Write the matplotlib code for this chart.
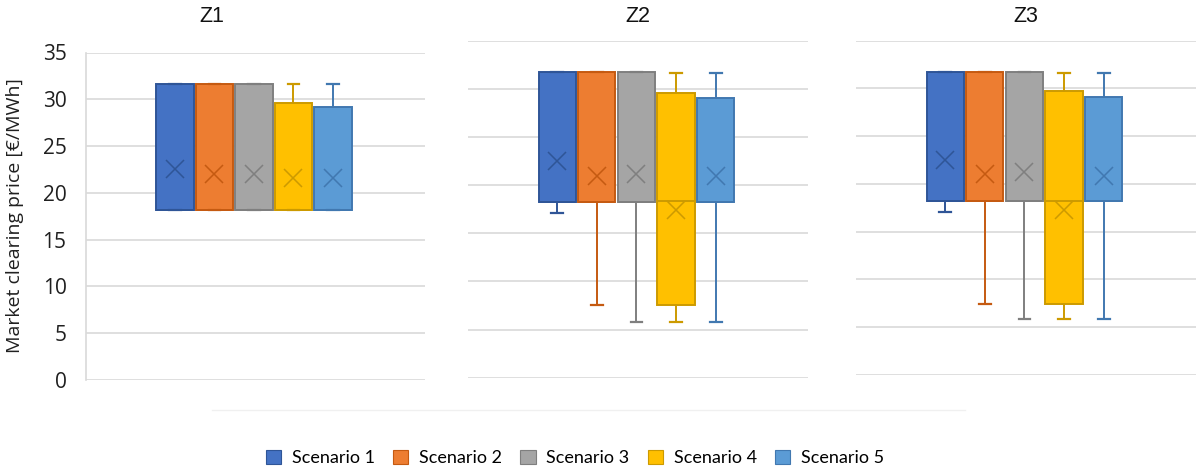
import matplotlib
matplotlib.use("Agg")
import matplotlib.pyplot as plt
from matplotlib.patches import Patch
from matplotlib.lines import Line2D

# ---------------- data ----------------
zones = ["Z1", "Z2", "Z3"]
scenarios = ["Scenario 1", "Scenario 2", "Scenario 3", "Scenario 4", "Scenario 5"]

# Z1
z1_whislo = [18.2, 18.2, 18.2, 18.2, 18.2]
z1_q1 = [18.2, 18.2, 18.2, 18.2, 18.2]
z1_med = [18.2, 18.2, 18.2, 18.2, 18.2]
z1_q3 = [31.6, 31.6, 31.6, 29.6, 29.2]
z1_whishi = [31.6, 31.6, 31.6, 31.6, 31.6]
z1_mean = [22.5, 22.0, 22.0, 21.6, 21.6]

# Z2
z2_whislo = [17.1, 7.5, 5.8, 5.8, 5.8]
z2_q1 = [18.2, 18.2, 18.2, 7.5, 18.2]
z2_med = [18.2, 18.2, 18.2, 18.3, 18.2]
z2_q3 = [31.7, 31.7, 31.7, 29.6, 29.1]
z2_whishi = [31.7, 31.7, 31.7, 31.6, 31.6]
z2_mean = [22.5, 21.0, 21.2, 17.4, 20.9]

# Z3
z3_whislo = [17.1, 7.4, 5.8, 5.8, 5.8]
z3_q1 = [18.2, 18.2, 18.2, 7.4, 18.2]
z3_med = [18.2, 18.2, 18.2, 18.25, 18.2]
z3_q3 = [31.7, 31.7, 31.7, 29.7, 29.1]
z3_whishi = [31.7, 31.7, 31.7, 31.6, 31.6]
z3_mean = [22.5, 21.0, 21.25, 17.3, 20.8]

yticks = [0, 5, 10, 15, 20, 25, 30, 35]

fill_colors = ["#4472C4", "#ED7D31", "#A5A5A5", "#FFC000", "#5B9BD5"]
edge_colors = ["#2F5597", "#C55A11", "#7F7F7F", "#CC9A00", "#4178B0"]
grid_color = "#D9D9D9"

zone_data = [
    (z1_whislo, z1_q1, z1_med, z1_q3, z1_whishi, z1_mean),
    (z2_whislo, z2_q1, z2_med, z2_q3, z2_whishi, z2_mean),
    (z3_whislo, z3_q1, z3_med, z3_q3, z3_whishi, z3_mean),
]

# axes rectangles (figure fractions) – panels are slightly offset as in the source
W, H = 1197, 468
rects = [
    (86 / W, 1 - 380 / H, 339 / W, (380 - 52.5) / H),
    (468 / W, 1 - 377.7 / H, 340 / W, (377.7 - 40.7) / H),
    (856 / W, 1 - 374.7 / H, 340 / W, (374.7 - 40.7) / H),
]
title_x = [212, 638, 1026]

fig = plt.figure(figsize=(W / 100, H / 100), dpi=100)

positions = [1, 2, 3, 4, 5]
for zi, (rect, data) in enumerate(zip(rects, zone_data)):
    ax = fig.add_axes(rect)
    wl, q1, md, q3, wh, mn = data
    for i in range(5):
        stats = [dict(whislo=wl[i], q1=q1[i], med=md[i], q3=q3[i],
                      whishi=wh[i], mean=mn[i], fliers=[])]
        ec = edge_colors[i]
        ax.bxp(stats, positions=[positions[i]], widths=0.94, patch_artist=True,
               showmeans=True, showfliers=False, capwidths=0.3,
               boxprops=dict(facecolor=fill_colors[i], edgecolor=ec, linewidth=1.4),
               medianprops=dict(color=ec, linewidth=1.4),
               whiskerprops=dict(color=ec, linewidth=1.4),
               capprops=dict(color=ec, linewidth=1.6),
               meanprops=dict(marker="x", markersize=13, markeredgecolor=ec,
                              markeredgewidth=1.1, markerfacecolor="none"),
               zorder=3)
    ax.set_xlim(-1.253, 7.33)
    ax.set_ylim(0, 35)
    ax.set_yticks(yticks)
    ax.grid(axis="y", color=grid_color, linewidth=1.2, zorder=0)
    ax.set_axisbelow(True)
    ax.set_xticks([])
    for s in ["top", "right", "bottom"]:
        ax.spines[s].set_visible(False)
    if zi == 0:
        ax.spines["left"].set_color(grid_color)
        ax.spines["left"].set_linewidth(1.2)
        ax.tick_params(axis="y", length=0, pad=14, labelsize=15)
        for lab in ax.get_yticklabels():
            lab.set_fontfamily("Open Sans")
            lab.set_color("#202020")
    else:
        ax.spines["left"].set_visible(False)
        ax.tick_params(axis="y", length=0, labelleft=False)
    ax.patch.set_alpha(0)
    fig.text(title_x[zi] / W, 1 - 16 / H, zones[zi], ha="center", va="center",
             fontsize=15.5, family="Liberation Sans", color="#111111")

fig.text(15 / W, 1 - 216 / H, "Market clearing price [€/MWh]", rotation=90,
         ha="center", va="center", fontsize=14, family="Open Sans", color="#202020")

# faint separator line near bottom
fig.add_artist(Line2D([212 / W, 965 / W], [1 - 410 / H, 1 - 410 / H],
                      color="#F0F0F0", linewidth=1.0))

handles = [Patch(facecolor=fill_colors[i], edgecolor=edge_colors[i], linewidth=0.8,
                 label=scenarios[i]) for i in range(5)]
fig.legend(handles=handles, loc="center", bbox_to_anchor=(575 / W, 1 - 458 / H),
           ncol=5, frameon=False, prop=dict(family="Lato", size=13),
           handlelength=0.85, handleheight=0.85, handletextpad=0.6,
           columnspacing=1.0, borderaxespad=0, borderpad=0)

fig.savefig("out.png", dpi=100)
